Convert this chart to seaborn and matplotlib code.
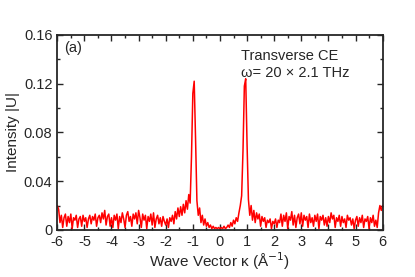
import numpy as np
import pandas as pd
import matplotlib
matplotlib.use("Agg")
import matplotlib.pyplot as plt
import seaborn as sns

# wave vector grid (1/Angstrom), step 0.05 from -6 to 6
kappa = np.round(np.arange(-6.0, 6.0001, 0.05), 2)

# intensity |U|, one row per unit of kappa
intensity = [
    # -6.00 .. -5.05
    0.020, 0.017, 0.006, 0.012, 0.002, 0.010, 0.013, 0.003, 0.011, 0.006,
    0.013, 0.001, 0.010, 0.008, 0.012, 0.002, 0.009, 0.011, 0.003, 0.012,
    # -5.00 .. -4.05
    0.007, 0.010, 0.002, 0.009, 0.012, 0.005, 0.011, 0.008, 0.013, 0.003,
    0.010, 0.012, 0.006, 0.014, 0.009, 0.016, 0.004, 0.011, 0.013, 0.003,
    # -4.00 .. -3.05
    0.010, 0.002, 0.012, 0.008, 0.013, 0.001, 0.011, 0.006, 0.014, 0.009,
    0.002, 0.012, 0.015, 0.007, 0.011, 0.003, 0.013, 0.009, 0.014, 0.005,
    # -3.00 .. -2.05
    0.016, 0.010, 0.002, 0.013, 0.008, 0.012, 0.001, 0.011, 0.007, 0.013,
    0.004, 0.014, 0.002, 0.009, 0.012, 0.005, 0.010, 0.003, 0.011, 0.007,
    # -2.00 .. -1.05
    0.004, 0.009, 0.002, 0.010, 0.007, 0.012, 0.005, 0.015, 0.009, 0.018,
    0.011, 0.019, 0.012, 0.021, 0.014, 0.024, 0.017, 0.029, 0.022, 0.060,
    # -1.00 .. -0.05
    0.112, 0.122, 0.075, 0.024, 0.012, 0.018, 0.006, 0.012, 0.004, 0.009,
    0.003, 0.006, 0.002, 0.004, 0.001, 0.003, 0.001, 0.002, 0.001, 0.002,
    # 0.00 .. 0.95
    0.001, 0.002, 0.001, 0.003, 0.001, 0.002, 0.004, 0.002, 0.006, 0.003,
    0.008, 0.005, 0.010, 0.007, 0.014, 0.020, 0.028, 0.065, 0.118, 0.124,
    # 1.00 .. 1.95
    0.070, 0.025, 0.012, 0.020, 0.008, 0.016, 0.006, 0.014, 0.009, 0.013,
    0.003, 0.011, 0.007, 0.010, 0.002, 0.008, 0.006, 0.009, 0.001, 0.007,
    # 2.00 .. 2.95
    0.005, 0.009, 0.002, 0.008, 0.006, 0.013, 0.003, 0.012, 0.007, 0.014,
    0.001, 0.011, 0.008, 0.015, 0.004, 0.012, 0.002, 0.010, 0.013, 0.005,
    # 3.00 .. 3.95
    0.014, 0.003, 0.012, 0.008, 0.011, 0.002, 0.013, 0.006, 0.010, 0.003,
    0.012, 0.007, 0.013, 0.001, 0.011, 0.008, 0.012, 0.004, 0.010, 0.003,
    # 4.00 .. 4.95
    0.011, 0.006, 0.014, 0.009, 0.012, 0.002, 0.010, 0.007, 0.012, 0.003,
    0.011, 0.006, 0.009, 0.002, 0.012, 0.008, 0.010, 0.004, 0.009, 0.001,
    # 5.00 .. 5.95
    0.008, 0.011, 0.003, 0.010, 0.006, 0.012, 0.002, 0.009, 0.007, 0.011,
    0.001, 0.010, 0.006, 0.012, 0.003, 0.008, 0.002, 0.014, 0.020, 0.016,
    # 6.00
    0.020,
]

yticks = [0, 0.04, 0.08, 0.12, 0.16]
ytick_labels = ["0", "0.04", "0.08", "0.12", "0.16"]
xticks = [-6, -5, -4, -3, -2, -1, 0, 1, 2, 3, 4, 5, 6]

df = pd.DataFrame({"kappa": kappa, "intensity": intensity})

sns.set_style("ticks")
plt.rcParams["font.family"] = ["Liberation Sans", "DejaVu Sans"]

fig, ax = plt.subplots(figsize=(4.15, 2.77), dpi=100)
fig.subplots_adjust(left=0.138, right=0.922, top=0.874, bottom=0.17)

sns.lineplot(data=df, x="kappa", y="intensity", color="red", linewidth=1.1, ax=ax)

ax.set_xlim(-6, 6)
ax.set_ylim(0, 0.16)
ax.set_xticks(xticks)
ax.set_xticklabels([str(t) for t in xticks])
ax.set_yticks(yticks)
ax.set_yticklabels(ytick_labels)
ax.set_xticks(np.arange(-6, 6.01, 0.5), minor=True)
ax.set_yticks(np.arange(0, 0.161, 0.02), minor=True)
ax.tick_params(which="both", direction="in", top=True, right=True, labelsize=10.5, width=1.0)
ax.tick_params(which="major", length=4)
ax.tick_params(which="minor", length=2)
for s in ax.spines.values():
    s.set_linewidth(1.3)

ax.set_xlabel("Wave Vector κ (Å$^{-1}$)", fontsize=11, labelpad=1)
ax.set_ylabel("Intensity |U|", fontsize=11, labelpad=3)

ax.text(0.02, 0.97, "(a)", transform=ax.transAxes, fontsize=10.5, va="top", ha="left")
ax.text(0.565, 0.93, "Transverse CE", transform=ax.transAxes, fontsize=10.5, va="top", ha="left")
ax.text(0.565, 0.84, "ω= 20 × 2.1 THz", transform=ax.transAxes, fontsize=10.5, va="top", ha="left")

fig.savefig("out.png", dpi=100)
